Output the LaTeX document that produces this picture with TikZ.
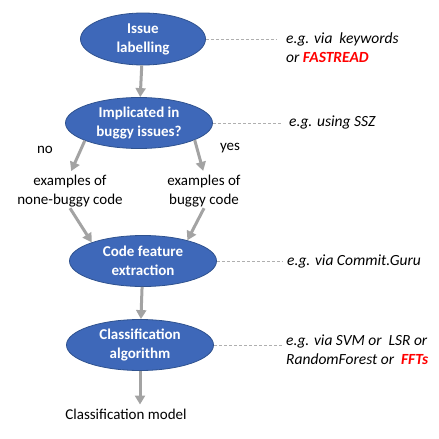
\documentclass[tikz,border=0pt]{standalone}
\usepackage{fontspec}
\setmainfont{Carlito}
\usetikzlibrary{positioning}
\usetikzlibrary{shapes.geometric}
\usetikzlibrary{arrows.meta}
\definecolor{stepblue}{RGB}{62,104,185}
\definecolor{stepline}{RGB}{47,82,143}
\definecolor{flowgray}{RGB}{163,163,163}
\definecolor{hintgray}{RGB}{175,175,175}
\definecolor{hired}{RGB}{255,0,0}

\begin{document}
\begin{tikzpicture}[
    x=1pt, y=-1pt,
    font=\fontsize{15}{19}\selectfont,
    mynode/.style={draw=stepline,line width=0.8pt,ellipse,fill=stepblue,text=white,align=center,
      minimum width=147pt,minimum height=51pt,inner sep=0pt,font=\fontsize{15}{19}\selectfont\bfseries},
    textnode/.style={align=center,inner sep=1pt},
    note/.style={anchor=west,align=left,inner sep=1pt,font=\fontsize{15.5}{19}\selectfont\itshape},
    flow/.style={draw=flowgray,line width=3pt,-{Triangle[width=10pt,length=9pt]}},
    hint/.style={draw=hintgray,line width=0.6pt,dash pattern=on 3pt off 2pt}
    ]
    \useasboundingbox (0,0) rectangle (439,439);

    \node[mynode, minimum width=125pt, minimum height=52pt] (label) at (143,39) {Issue\\labelling};
    \node[mynode] (impl) at (139,123) {Implicated in\\buggy issues?};
    \node[textnode] (clean) at (70,191) {examples of\\none-buggy code};
    \node[textnode] (buggy) at (204,191) {examples of\\buggy code};
    \node[textnode] (no) at (45,150) {no};
    \node[textnode] (yes) at (230,148) {yes};
    \node[mynode] (feat) at (143,261) {Code feature\\extraction};
    \node[mynode] (algo) at (140,345) {Classification\\algorithm};
    \node[textnode] (model) at (126,414) {Classification model};

    \node[note] (n1) at (285,48) {e.g. via~ keywords\\or \textcolor{hired}{\bfseries FASTREAD}};
    \node[note] (n2) at (288,122) {e.g. using SSZ};
    \node[note] (n3) at (286,261) {e.g. via Commit.Guru};
    \node[note] (n4) at (285,350) {e.g. via SVM or~ LSR or\\RandomForest or~ \textcolor{hired}{\bfseries FFTs}};

    \path (label) edge[flow] (impl)
    (impl.198) edge[flow, shorten >=3pt] (clean.north)
    (impl.343) edge[flow, shorten >=3pt] (buggy.north)
    (clean.south) edge[flow] (feat.160)
    (buggy.south) edge[flow] (feat.25)
    (feat) edge[flow] (algo)
    (algo) edge[flow, shorten >=3pt] (algo |- model.north)
    ;

    \draw[hint] (label) -- ([xshift=-8pt]label -| n1.west);
    \draw[hint] (impl) -- ([xshift=-6pt]impl -| n2.west);
    \draw[hint] (feat) -- ([xshift=-3pt]feat -| n3.west);
    \draw[hint] (algo) -- ([xshift=-3pt]algo -| n4.west);

  \end{tikzpicture}
\end{document}
